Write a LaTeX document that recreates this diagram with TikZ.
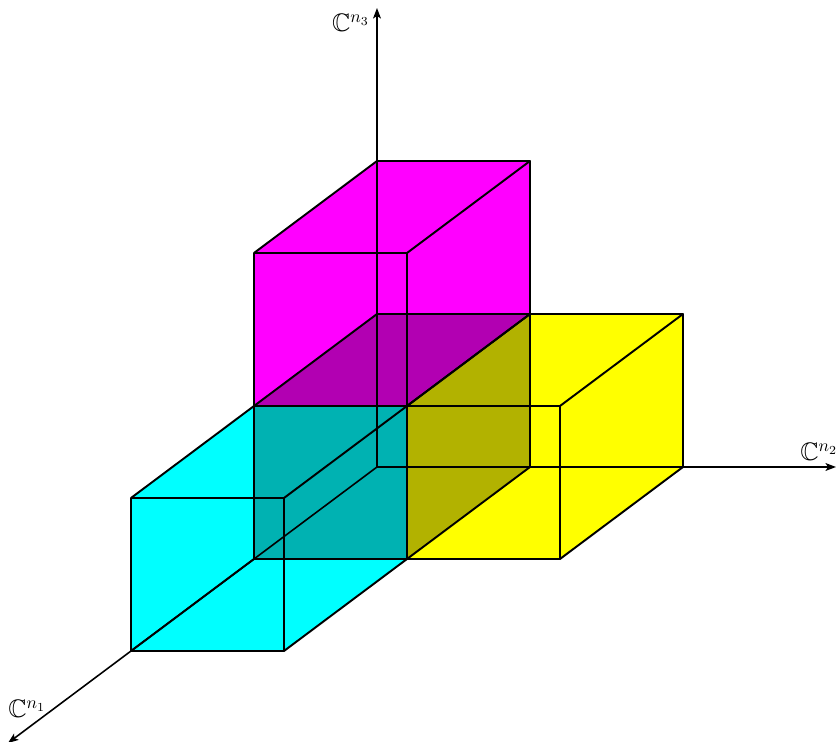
\documentclass[tikz,border=0pt]{standalone}
\usepackage{amsmath,amssymb}
\usetikzlibrary{arrows.meta, positioning}

\definecolor{boxcyan}{RGB}{0,255,255}
\definecolor{boxmagenta}{RGB}{255,0,255}
\definecolor{boxyellow}{RGB}{255,255,0}
\definecolor{darkcyan}{RGB}{0,178,178}
\definecolor{darkmagenta}{RGB}{178,0,178}
\definecolor{darkyellow}{RGB}{178,178,0}

\tikzset{
  boxedge/.style={black, line width=1.1pt, line join=round},
  axisline/.style={black, line width=0.9pt, -{Stealth[length=6pt, width=4.5pt, inset=1.5pt]}},
  axislabel/.style={font=\Large, inner sep=0pt},
}

% the 12 edges of the unit box with lowest corner (#1,#2,#3)
\newcommand{\unitbox}[3]{%
  \draw[boxedge] (#1,#2,#3) -- ++(1,0,0) -- ++(0,1,0) -- ++(-1,0,0) -- cycle;
  \draw[boxedge] (#1,#2,#3+1) -- ++(1,0,0) -- ++(0,1,0) -- ++(-1,0,0) -- cycle;
  \foreach \da/\db in {0/0,1/0,1/1,0/1}
    \draw[boxedge] (#1+\da,#2+\db,#3) -- ++(0,0,1);
}

\begin{document}
\begin{tikzpicture}[x={(-2.46cm,-1.84cm)}, y={(3.06cm,0cm)}, z={(0cm,3.06cm)}]
  \useasboundingbox (-7.54cm,-5.5cm) rectangle (9.22cm,9.34cm);

  % faces
  \fill[boxmagenta] (1,0,2) -- (0,0,2) -- (0,1,2) -- (0,1,1) -- (1,1,1) -- (1,0,1) -- cycle;
  \fill[boxyellow] (1,1,1) -- (0,1,1) -- (0,2,1) -- (0,2,0) -- (1,2,0) -- (1,1,0) -- cycle;
  \fill[boxcyan] (2,0,1) -- (1,0,1) -- (1,1,1) -- (1,1,0) -- (2,1,0) -- (2,0,0) -- cycle;
  % shaded faces of the corner box
  \fill[darkmagenta] (1,0,1) -- (0,0,1) -- (0,1,1) -- (1,1,1) -- cycle;
  \fill[darkyellow] (1,1,1) -- (0,1,1) -- (0,1,0) -- (1,1,0) -- cycle;
  \fill[darkcyan] (1,0,1) -- (1,1,1) -- (1,1,0) -- (1,0,0) -- cycle;

  % edges
  \unitbox{0}{0}{1}
  \unitbox{0}{1}{0}
  \unitbox{1}{0}{0}

  % axes
  \coordinate (O) at (0,0,0);
  \coordinate (E1) at (3,0,0);
  \coordinate (E2) at (0,3,0);
  \coordinate (E3) at (0,0,3);
  \draw[axisline] (O) -- (E1);
  \draw[axisline] (O) -- (E2);
  \draw[axisline] (O) -- (E3);
  \node[axislabel, anchor=north east] (L3) at ([xshift=-0.14cm, yshift=-0.12cm]E3) {$\mathbb{C}^{n_3}$};
  \node[axislabel, anchor=south west] (L2) at ([xshift=-0.72cm, yshift=0.12cm]E2) {$\mathbb{C}^{n_2}$};
  \node[axislabel, anchor=south west] (L1) at ([xshift=0.0cm, yshift=0.5cm]E1) {$\mathbb{C}^{n_1}$};
\end{tikzpicture}
\end{document}
